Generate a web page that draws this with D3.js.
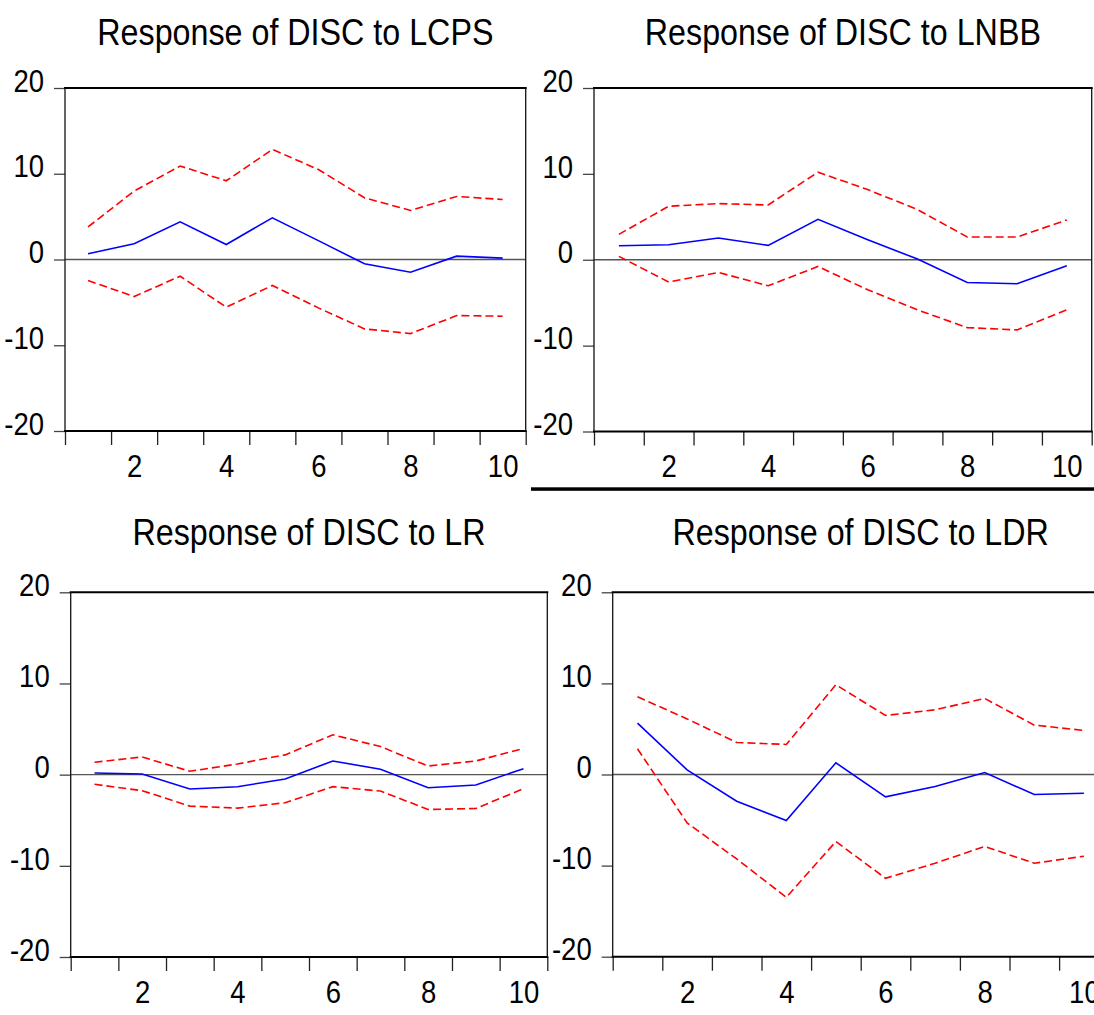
<!DOCTYPE html>
<html>
<head>
<meta charset="utf-8">
<script src="https://cdn.jsdelivr.net/npm/d3@7"></script>
<style>
  body { margin: 0; background: #fff; }
  text { font-family: "Liberation Sans", Arial, sans-serif; fill: #000; }
</style>
</head>
<body>
<div id="chart"></div>
<script>
// Data
const periods = [1, 2, 3, 4, 5, 6, 7, 8, 9, 10];
const yTicks = [-20, -10, 0, 10, 20];
const xLabels = [2, 4, 6, 8, 10];
const titles = ["Response of DISC to LCPS", "Response of DISC to LNBB",
                "Response of DISC to LR", "Response of DISC to LDR"];

const lcpsResp  = [0.66, 1.83, 4.4, 1.75, 4.86, 2.2, -0.5, -1.48, 0.39, 0.16];
const lcpsUpper = [3.8, 7.98, 10.9, 9.18, 12.84, 10.5, 7.2, 5.72, 7.35, 7.0];
const lcpsLower = [-2.45, -4.32, -1.95, -5.56, -3.03, -5.64, -8.09, -8.64, -6.54, -6.61];

const lnbbResp  = [1.63, 1.75, 2.53, 1.67, 4.71, 2.33, 0.08, -2.65, -2.8, -0.7];
const lnbbUpper = [2.96, 6.23, 6.54, 6.38, 10.2, 8.17, 5.84, 2.65, 2.65, 4.63];
const lnbbLower = [0.39, -2.6, -1.48, -3.03, -0.78, -3.5, -5.84, -7.9, -8.17, -5.84];

const lrResp  = [0.18, 0.07, -1.58, -1.32, -0.48, 1.5, 0.59, -1.43, -1.14, 0.66];
const lrUpper = [1.36, 1.94, 0.37, 1.17, 2.17, 4.37, 3.08, 0.95, 1.5, 2.86];
const lrLower = [-1.06, -1.76, -3.45, -3.67, -3.08, -1.32, -1.8, -3.82, -3.71, -1.54];

const ldrResp  = [5.64, 0.51, -2.93, -5.05, 1.28, -2.45, -1.32, 0.22, -2.2, -2.05];
const ldrUpper = [8.53, 6.1, 3.52, 3.3, 9.85, 6.48, 7.1, 8.35, 5.42, 4.84];
const ldrLower = [2.82, -5.31, -9.27, -13.48, -7.36, -11.39, -9.74, -7.9, -9.74, -8.97];

// panel boxes (pixels)
const panels = [
  { title: titles[0], resp: lcpsResp, upper: lcpsUpper, lower: lcpsLower,
    left: 65, right: 525.7, top: 88, bottom: 431, titleY: 45 },
  { title: titles[1], resp: lnbbResp, upper: lnbbUpper, lower: lnbbLower,
    left: 594, right: 1091.7, top: 88, bottom: 431.5, titleY: 45 },
  { title: titles[2], resp: lrResp, upper: lrUpper, lower: lrLower,
    left: 70.7, right: 547.3, top: 592.3, bottom: 957, titleY: 545 },
  { title: titles[3], resp: ldrResp, upper: ldrUpper, lower: ldrLower,
    left: 612.7, right: 1108.7, top: 592.3, bottom: 956.7, titleY: 545 }
];

const sx = 0.86; // text is horizontally condensed in the original

const svg = d3.select("#chart")
    .append("svg")
    .attr("width", 1094)
    .attr("height", 1015);

function drawPanel(p) {
    const g = svg.append("g");

    const x = d3.scaleLinear().domain([0.5, 10.5]).range([p.left, p.right]);
    const y = d3.scaleLinear().domain([-20, 20]).range([p.bottom, p.top]);

    // title
    g.append("text")
        .attr("transform", `translate(${(p.left + p.right) / 2},${p.titleY}) scale(${sx},1)`)
        .attr("text-anchor", "middle")
        .style("font-size", "37.5px")
        .text(p.title);

    // y axis
    const yAxis = g.append("g")
        .attr("transform", `translate(${p.left},0)`)
        .call(d3.axisLeft(y).tickValues(yTicks).tickSize(11).tickPadding(0).tickFormat(d => String(d)));
    yAxis.select(".domain").remove();
    yAxis.selectAll(".tick line").attr("stroke", "#444").attr("stroke-width", 1.3);
    yAxis.selectAll(".tick text")
        .attr("x", -21 / sx)
        .attr("dy", "0.1em")
        .attr("transform", `scale(${sx},1)`)
        .style("font-size", "32px")
        .style("font-family", "'Liberation Sans', Arial, sans-serif");

    // x tick marks at period boundaries
    const xTickAxis = g.append("g")
        .attr("transform", `translate(0,${p.bottom})`)
        .call(d3.axisBottom(x).tickValues(d3.range(0.5, 11, 1)).tickSize(14).tickFormat(""));
    xTickAxis.select(".domain").remove();
    xTickAxis.selectAll(".tick line").attr("stroke", "#222").attr("stroke-width", 1.3);

    // x labels centred on periods
    const xLabAxis = g.append("g")
        .attr("transform", `translate(0,${p.bottom})`)
        .call(d3.axisBottom(x).tickValues(xLabels).tickSize(0).tickFormat(d => String(d)));
    xLabAxis.select(".domain").remove();
    xLabAxis.selectAll(".tick line").remove();
    xLabAxis.selectAll(".tick text")
        .attr("y", 46)
        .attr("dy", 0)
        .attr("transform", `scale(${sx},1)`)
        .style("font-size", "32px")
        .style("font-family", "'Liberation Sans', Arial, sans-serif");

    // zero line
    g.append("line")
        .attr("x1", p.left).attr("x2", p.right)
        .attr("y1", y(0)).attr("y2", y(0))
        .attr("stroke", "#555")
        .attr("stroke-width", 1.3);

    const line = d3.line()
        .x((d, i) => x(periods[i]))
        .y(d => y(d));

    [p.upper, p.lower].forEach(band => {
        g.append("path")
            .datum(band)
            .attr("fill", "none")
            .attr("stroke", "#ff0000")
            .attr("stroke-width", 1.6)
            .attr("stroke-dasharray", "8,4")
            .attr("d", line);
    });

    g.append("path")
        .datum(p.resp)
        .attr("fill", "none")
        .attr("stroke", "#0000ff")
        .attr("stroke-width", 1.6)
        .attr("d", line);

    // frame
    g.append("line").attr("x1", p.left - 1).attr("x2", p.right + 1)
        .attr("y1", p.top).attr("y2", p.top).attr("stroke", "#000").attr("stroke-width", 2);
    g.append("line").attr("x1", p.left - 1).attr("x2", p.right + 1)
        .attr("y1", p.bottom).attr("y2", p.bottom).attr("stroke", "#000").attr("stroke-width", 2);
    g.append("line").attr("x1", p.left).attr("x2", p.left)
        .attr("y1", p.top).attr("y2", p.bottom).attr("stroke", "#111").attr("stroke-width", 1.3);
    g.append("line").attr("x1", p.right).attr("x2", p.right)
        .attr("y1", p.top).attr("y2", p.bottom).attr("stroke", "#111").attr("stroke-width", 1.3);
}

panels.forEach(drawPanel);

// thick rule under the upper-right panel
svg.append("rect")
    .attr("x", 531).attr("y", 487.3)
    .attr("width", 1094 - 531).attr("height", 3.5)
    .attr("fill", "#000");
</script>
</body>
</html>
